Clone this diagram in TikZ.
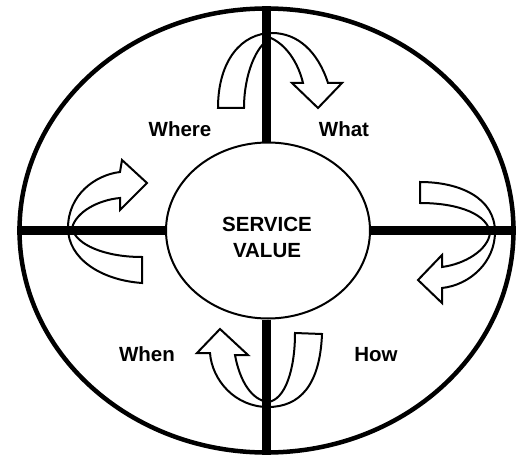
\documentclass[tikz,border=0pt]{standalone}
\usepackage{fontspec}
\setmainfont{Liberation Sans}
\usetikzlibrary{shapes.geometric}
\begin{document}
\begin{tikzpicture}[x=1pt,y=-1pt,
  bigring/.style={draw, ellipse, line width=4.5pt, minimum width=494pt, minimum height=444pt, inner sep=0pt},
  core/.style={draw, ellipse, line width=2pt, minimum width=204pt, minimum height=176pt, inner sep=0pt},
  bar/.style={line width=8.5pt},
  turn/.style={draw, fill=white, line width=2pt, line join=miter},
  lbl/.style={font=\fontsize{20.5}{24}\selectfont\bfseries, anchor=base, inner sep=0pt}]
\useasboundingbox (0,0) rectangle (520,460);
% curved arrows
\path[turn] (218,108) -- (244,108)
  .. controls (244,75) and (256,45) .. (271,38)
  .. controls (286,45) and (298,62) .. (303,83)
  -- (292,83) -- (318,108) -- (342,83) -- (328,83)
  .. controls (318,52) and (298,33) .. (272,33)
  .. controls (242,33) and (218,60) .. (218,108) -- cycle;
\path[turn] (420,182)
  .. controls (460,182) and (495,198) .. (495,232)
  .. controls (495,262) and (470,285) .. (442,288)
  -- (442,303) -- (418,280) -- (442,255) -- (442,267)
  .. controls (465,264) and (488,250) .. (490,233)
  .. controls (488,215) and (460,203) .. (420,203) -- cycle;
\path[turn] (295,333) -- (322,334)
  .. controls (320,385) and (300,407) .. (268,407)
  .. controls (235,407) and (212,380) .. (210,353)
  -- (197,353) -- (220,329) -- (248,355) -- (235,355)
  .. controls (240,382) and (252,400) .. (268,402)
  .. controls (285,400) and (295,370) .. (295,333) -- cycle;
\path[turn] (142,257) -- (142,283)
  .. controls (100,280) and (68,258) .. (68,228)
  .. controls (68,195) and (95,175) .. (120,172)
  -- (122,160) -- (147,183) -- (120,210) -- (120,198)
  .. controls (98,200) and (76,212) .. (72,228)
  .. controls (76,245) and (105,257) .. (142,257) -- cycle;
% rings
\node[bigring] (O) at (266.5,230.5) {};
\node[core] (I) at (268,230.5) {};
% cross bars
\draw[bar] (O.north) -- (O.north |- I.north);
\draw[bar] (O.south |- I.south) -- (O.south);
\draw[bar] (O.west) -- (I.west);
\draw[bar] (I.east) -- (O.east);
% labels
\node[lbl] (sv1) at (267,231) {SERVICE};
\node[lbl] (sv2) at (267,257) {VALUE};
\node[lbl] (where) at (180,136) {Where};
\node[lbl] (what) at (344,136) {What};
\node[lbl] (when) at (147,361) {When};
\node[lbl] (how) at (376,361) {How};
\end{tikzpicture}
\end{document}
